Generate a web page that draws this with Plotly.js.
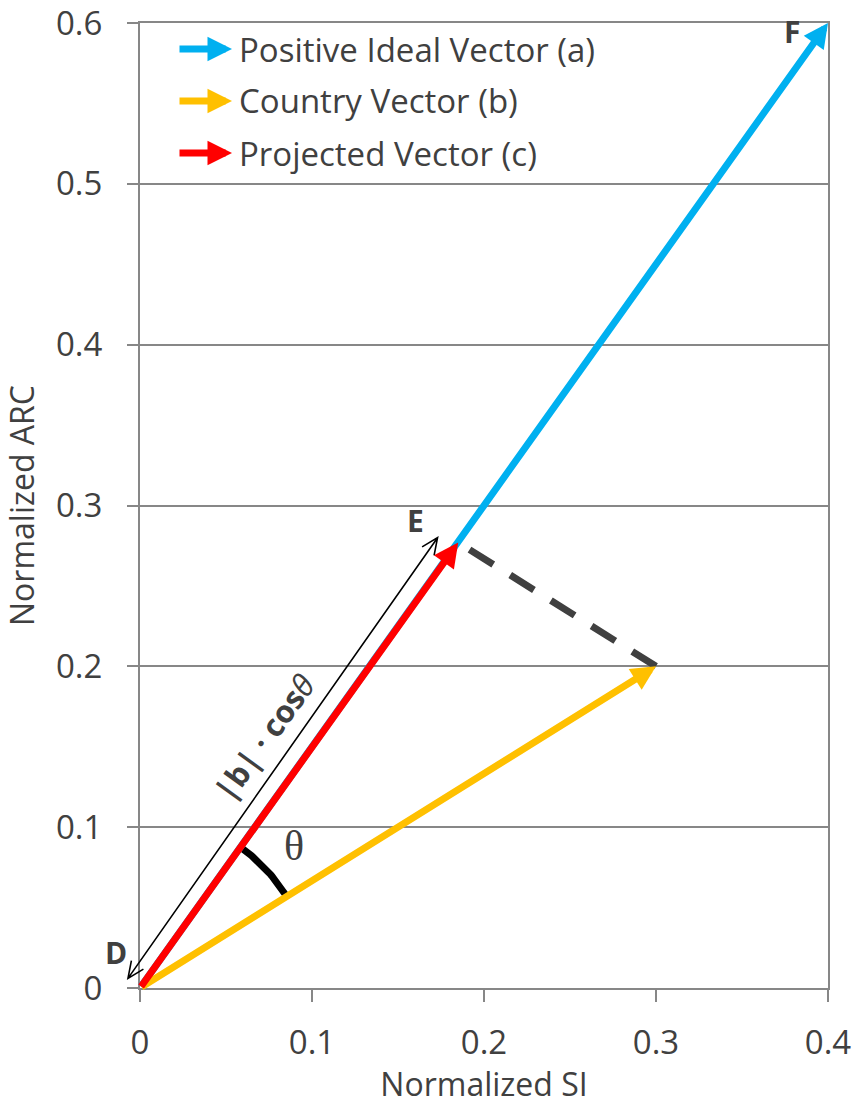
<!DOCTYPE html>
<html><head><meta charset="utf-8">
<script src="https://cdn.plot.ly/plotly-3.0.1.min.js"></script>
<style>html,body{margin:0;padding:0;background:#fff}#chart{width:854px;height:1105px}</style>
</head><body><div id="chart"></div>
<script>
// ---------- data ----------
const seriesNames = ['Positive Ideal Vector (a)', 'Country Vector (b)', 'Projected Vector (c)'];
const vectorX = [0.4, 0.3, 0.185];
const vectorY = [0.6, 0.2, 0.277];
const originX = 0;
const originY = 0;
const dashX = [0.3, 0.185];
const dashY = [0.2, 0.277];
const xTickVals = [0, 0.1, 0.2, 0.3, 0.4];
const xTickText = ['0', '0.1', '0.2', '0.3', '0.4'];
const yTickVals = [0, 0.1, 0.2, 0.3, 0.4, 0.5, 0.6];
const yTickText = ['0', '0.1', '0.2', '0.3', '0.4', '0.5', '0.6'];
const pointLabels = ['D', 'E', 'F'];
const measureLabel = '<b>|b| · cos</b><i>θ</i>';
const angleLabel = 'θ';

// ---------- styles / layout geometry ----------
const seriesColors = ['#00B0F0', '#FFC000', '#FF0000'];
const textColor = '#404040';
const gridColor = '#878787';
const FONT = 'Open Sans, Noto Sans, sans-serif';
const W = 854, H = 1105;
const M = {l: 140, r: 26, t: 23, b: 117, pad: 0};
const xRange = [0, 0.40001], yRange = [0, 0.60001];
const plotW = W - M.l - M.r, plotH = H - M.t - M.b;
const pxPerX = plotW / (xRange[1] - xRange[0]);
const pxPerY = plotH / (yRange[1] - yRange[0]);
const toPaperX = x => (x - xRange[0]) / (xRange[1] - xRange[0]);
const toPaperY = y => (y - yRange[0]) / (yRange[1] - yRange[0]);

// measurement arrow placement (offset beside the projected vector)
const measStart = {x: -0.007, y: 0.006};
const measEnd = {x: 0.173, y: 0.280};

// angle arc (decoration) between country vector and projected vector
const angB = Math.atan2(vectorY[1] * pxPerY, vectorX[1] * pxPerX);
const angC = Math.atan2(vectorY[2] * pxPerY, vectorX[2] * pxPerX);
const arcR = 173;
const arcX = [], arcY = [];
for (let i = 0; i <= 40; i++) {
  const t = angB + (angC - angB) * i / 40;
  arcX.push(originX + arcR * Math.cos(t) / pxPerX);
  arcY.push(originY + arcR * Math.sin(t) / pxPerY);
}

// open V arrow heads for the measurement arrow (decoration), as a paper-referenced path
function vHeadPts(tip, from, len, halfAngle) {
  const dx = (from.x - tip.x) * pxPerX, dy = (from.y - tip.y) * pxPerY;
  const base = Math.atan2(dy, dx);
  return [base + halfAngle, base - halfAngle].map(a => ({
    x: tip.x + len * Math.cos(a) / pxPerX,
    y: tip.y + len * Math.sin(a) / pxPerY
  }));
}
const P = p => toPaperX(p.x).toFixed(5) + ',' + toPaperY(p.y).toFixed(5);
const hE = vHeadPts(measEnd, measStart, 18, 0.42);
const hS = vHeadPts(measStart, measEnd, 18, 0.42);
const measPath = 'M' + P(measStart) + 'L' + P(measEnd) +
  'M' + P(hE[0]) + 'L' + P(measEnd) + 'L' + P(hE[1]) +
  'M' + P(hS[0]) + 'L' + P(measStart) + 'L' + P(hS[1]);

const traces = [
  {x: dashX, y: dashY, type: 'scatter', mode: 'lines', hoverinfo: 'skip', showlegend: false,
   line: {color: textColor, width: 7, dash: '28px,20px'}},
  {x: arcX, y: arcY, type: 'scatter', mode: 'lines', hoverinfo: 'skip', showlegend: false,
   line: {color: '#000000', width: 7}}
];

const shapes = [
  {type: 'path', xref: 'paper', yref: 'paper', path: measPath, layer: 'above',
   line: {color: '#000000', width: 1.6}}
];

const annotations = [];
// vectors drawn in order: blue, yellow, red
[0, 1, 2].forEach(i => {
  annotations.push({
    xref: 'x', yref: 'y', axref: 'x', ayref: 'y',
    x: vectorX[i], y: vectorY[i], ax: originX, ay: originY,
    text: '', showarrow: true, arrowhead: 2, arrowsize: 0.7, arrowwidth: 7,
    arrowcolor: seriesColors[i], standoff: 0
  });
});
annotations.push({
  xref: 'x', yref: 'y', x: 0.0723, y: 0.156, xanchor: 'center', yanchor: 'middle',
  text: measureLabel, showarrow: false,
  textangle: -54, font: {family: FONT, size: 31, color: textColor}
});
annotations.push({
  xref: 'x', yref: 'y', x: 0.0897, y: 0.0884, xanchor: 'center', yanchor: 'middle',
  text: angleLabel, showarrow: false,
  font: {family: 'Liberation Serif, DejaVu Serif, serif', size: 42, color: textColor}
});
// point labels
annotations.push({xref: 'paper', yref: 'paper', x: -0.0349, y: 0.0373, xanchor: 'center', yanchor: 'middle',
  text: '<b>' + pointLabels[0] + '</b>', showarrow: false, font: {family: FONT, size: 30, color: textColor}});
annotations.push({xref: 'x', yref: 'y', x: 0.160, y: 0.2905, xanchor: 'center', yanchor: 'middle',
  text: '<b>' + pointLabels[1] + '</b>', showarrow: false, font: {family: FONT, size: 30, color: textColor}});
annotations.push({xref: 'x', yref: 'y', x: 0.379, y: 0.595, xanchor: 'center', yanchor: 'middle',
  text: '<b>' + pointLabels[2] + '</b>', showarrow: false, font: {family: FONT, size: 30, color: textColor}});

// custom legend with arrow icons
const legendRowsPx = [49, 101, 153];
legendRowsPx.forEach((py, i) => {
  const yp = (H - M.b - py) / plotH;
  annotations.push({
    xref: 'paper', yref: 'paper', x: (232 - M.l) / plotW, y: yp,
    ax: -54, ay: 0, text: '', showarrow: true, arrowhead: 2, arrowsize: 0.7, arrowwidth: 7,
    arrowcolor: seriesColors[i], standoff: 0
  });
  annotations.push({
    xref: 'paper', yref: 'paper', x: (237 - M.l) / plotW, y: yp, xanchor: 'left', yanchor: 'middle',
    text: seriesNames[i], showarrow: false, font: {family: FONT, size: 33, color: textColor}
  });
});

const layout = {
  width: W, height: H, margin: M,
  paper_bgcolor: '#ffffff', plot_bgcolor: '#ffffff',
  showlegend: false,
  font: {family: FONT, color: textColor},
  xaxis: {
    range: xRange, tickvals: xTickVals, ticktext: xTickText,
    showgrid: false, zeroline: false, showline: true, linecolor: gridColor, linewidth: 2, mirror: true,
    ticks: 'outside', ticklen: 12, tickwidth: 2, tickcolor: gridColor,
    ticklabelstandoff: 12, ticklabeloverflow: 'allow',
    tickfont: {family: FONT, size: 33, color: textColor},
    title: {text: 'Normalized SI', font: {family: FONT, size: 32, color: textColor}, standoff: 8}
  },
  yaxis: {
    range: yRange, tickvals: yTickVals, ticktext: yTickText,
    showgrid: true, gridcolor: gridColor, gridwidth: 2,
    zeroline: false, showline: true, linecolor: gridColor, linewidth: 2, mirror: true,
    ticks: 'outside', ticklen: 11, tickwidth: 2, tickcolor: gridColor,
    ticklabelstandoff: 18, ticklabeloverflow: 'allow',
    tickfont: {family: FONT, size: 33, color: textColor},
    title: {text: 'Normalized ARC', font: {family: FONT, size: 32, color: textColor}, standoff: 13}
  },
  shapes: shapes,
  annotations: annotations
};

Plotly.newPlot('chart', traces, layout, {displayModeBar: false, staticPlot: true});
</script>
</body></html>
